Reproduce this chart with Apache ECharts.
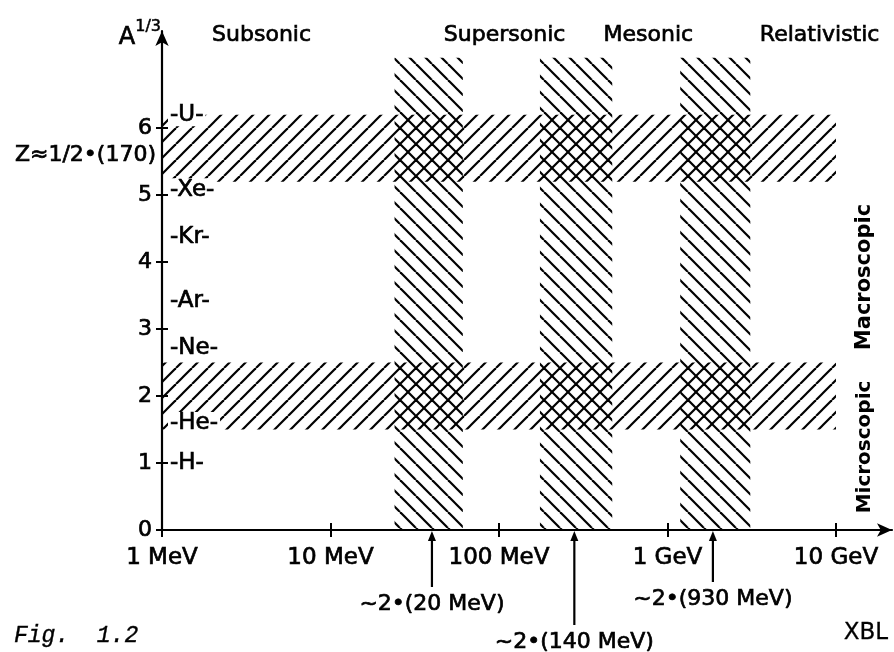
<!DOCTYPE html>
<html><head><meta charset="utf-8">
<script src="https://cdn.jsdelivr.net/npm/echarts@6/dist/echarts.min.js"></script>
<style>html,body{margin:0;padding:0;background:#fff}#c{width:894px;height:652px}</style>
</head><body><div id="c"></div>
<script>
// ---- data ----
const xTicks = [1, 10, 100, 1000, 10000];               // MeV
const xTickLabels = ['1 MeV', '10 MeV', '100 MeV', '1 GeV', '10 GeV'];
const yTicks = [0, 1, 2, 3, 4, 5, 6];
// horizontal bands: [xFrom MeV, xTo MeV, yLow, yHigh]
const hBands = [[1, 10000, 5.2, 6.2], [1, 10000, 1.5, 2.5]];
// vertical bands: [xFrom MeV, xTo MeV, yLow, yHigh]
const vBands = [[24, 61, 0, 7.05], [175, 470, 0, 7.05], [1190, 3100, 0, 7.05]];
const elements = ['-U-', '-Xe-', '-Kr-', '-Ar-', '-Ne-', '-He-', '-H-'];
const elementY = [6.2, 5.08, 4.38, 3.42, 2.71, 1.59, 1.0];
const regimes = ['Subsonic', 'Supersonic', 'Mesonic', 'Relativistic'];
const regimeX = [3.9, 108, 770, 8000];
const thresholds = [40, 280, 1860];
const thresholdLabels = ['~2•(20 MeV)', '~2•(140 MeV)', '~2•(930 MeV)'];

const FONT = 'DejaVu Sans';
const BW = 0.7; // text outline to mimic the heavy lettering

function hatch(dir) {
  const s = 16, c = document.createElement('canvas');
  c.width = s; c.height = s;
  const g = c.getContext('2d');
  g.strokeStyle = '#000'; g.lineWidth = 2.2; g.lineCap = 'butt';
  for (const o of [-s, 0, s]) {
    g.beginPath();
    if (dir === '/') { g.moveTo(o, s); g.lineTo(o + s, 0); }
    else { g.moveTo(o, 0); g.lineTo(o + s, s); }
    g.stroke();
  }
  return { image: c, repeat: 'repeat' };
}
const patSlash = hatch('/');
const patBack = hatch('\\');

function bandRenderer(pattern) {
  return function (params, api) {
    const p0 = api.coord([api.value(0), api.value(3)]);
    const p1 = api.coord([api.value(1), api.value(2)]);
    return {
      type: 'rect',
      shape: { x: p0[0], y: p0[1], width: p1[0] - p0[0], height: p1[1] - p0[1] },
      style: { fill: pattern, stroke: null }
    };
  };
}

const chart = echarts.init(document.getElementById('c'), null, { renderer: 'canvas' });
const XMAX = 21500, YMAX = 7.45;
const labelMap = {};
xTicks.forEach((v, i) => labelMap[v] = xTickLabels[i]);

const axisLineStyle = { color: '#000', width: 2.2 };
const option = {
  animation: false,
  backgroundColor: '#fff',
  grid: { left: 162, right: 2, top: 31, bottom: 122, containLabel: false },
  xAxis: [{
    type: 'log', logBase: 10, min: 1, max: XMAX, position: 'bottom',
    axisLine: { show: true, symbol: ['none', 'arrow'], symbolSize: [10, 15], lineStyle: axisLineStyle },
    axisTick: { show: true, customValues: xTicks, length: 7, lineStyle: { color: '#000', width: 2 } },
    axisLabel: { show: true, customValues: xTicks, formatter: v => labelMap[v] || '', color: '#000',
      fontFamily: FONT, fontSize: 23, margin: 17, textBorderColor: '#000', textBorderWidth: BW },
    splitLine: { show: false }, minorTick: { show: false }
  }, {
    type: 'log', logBase: 10, min: 1, max: XMAX, position: 'bottom',
    axisLine: { show: false },
    axisTick: { show: true, inside: true, customValues: xTicks, length: 7, lineStyle: { color: '#000', width: 2 } },
    axisLabel: { show: false }, splitLine: { show: false }
  }],
  yAxis: [{
    type: 'value', min: 0, max: YMAX, position: 'left',
    axisLine: { show: true, symbol: ['none', 'arrow'], symbolSize: [10, 15], lineStyle: axisLineStyle },
    axisTick: { show: true, customValues: yTicks, length: 6, lineStyle: { color: '#000', width: 2 } },
    axisLabel: { show: true, customValues: yTicks, color: '#000', fontFamily: FONT, fontSize: 22, margin: 10,
      textBorderColor: '#000', textBorderWidth: BW },
    splitLine: { show: false }
  }, {
    type: 'value', min: 0, max: YMAX, position: 'left',
    axisLine: { show: false },
    axisTick: { show: true, inside: true, customValues: yTicks, length: 6, lineStyle: { color: '#000', width: 2 } },
    axisLabel: { show: false }, splitLine: { show: false }
  }],
  series: [{
    type: 'custom', name: 'size bands', xAxisIndex: 0, yAxisIndex: 0,
    renderItem: bandRenderer(patSlash), data: hBands,
    encode: { x: [0, 1], y: [2, 3] }, clip: false, silent: true
  }, {
    type: 'custom', name: 'energy bands', xAxisIndex: 0, yAxisIndex: 0,
    renderItem: bandRenderer(patBack), data: vBands,
    encode: { x: [0, 1], y: [2, 3] }, clip: false, silent: true
  }]
};
chart.setOption(option);

const px = v => chart.convertToPixel({ xAxisIndex: 0 }, v);
const py = v => chart.convertToPixel({ yAxisIndex: 0 }, v);
const x0 = px(1), y0 = py(0);

const g = [];
const txt = (text, x, y, opts) => g.push(Object.assign({
  type: 'text', x, y, z: 100,
  style: Object.assign({ text, fill: '#000', stroke: '#000', lineWidth: BW, font: '20px ' + FONT, align: 'left', verticalAlign: 'middle' }, (opts && opts.style) || {})
}, (opts && opts.el) || {}));

// y-axis title A^1/3
g.push({ type: 'text', x: 161, y: 30, z: 100, style: {
  text: '{a|A}{s|1/3}', align: 'right', verticalAlign: 'middle',
  rich: { a: { font: '24px ' + FONT, fill: '#000', stroke: '#000', lineWidth: BW, padding: [16, 0, 0, 0] },
          s: { font: '16px ' + FONT, fill: '#000', stroke: '#000', lineWidth: 0.5, padding: [0, 0, 6, 0] } }
}});

// regime labels
regimes.forEach((r, i) => txt(r, px(regimeX[i]), 35, { style: { align: 'center', font: '22px ' + FONT } }));

// element labels (white-backed, the hatching stops around them)
elements.forEach((e, i) => txt(e, x0 + 6, py(elementY[i]), { style: { font: '23px ' + FONT, backgroundColor: '#fff', padding: [0, 2, 0, 2] } }));
txt('Z≈1/2•(170)', x0 - 6, py(5.6), { style: { align: 'right', font: '22px ' + FONT } });

// right-hand rotated labels
txt('Macroscopic', 865, 277, { style: { align: 'center', font: 'bold 21px ' + FONT, lineWidth: 0 }, el: { rotation: Math.PI / 2 } });
txt('Microscopic', 865, 447, { style: { align: 'center', font: 'bold 20px ' + FONT, lineWidth: 0 }, el: { rotation: Math.PI / 2 } });

// threshold arrows
const arrowLen = [57, 95, 52];
thresholds.forEach((t, i) => {
  const x = px(t);
  g.push({ type: 'line', z: 100, shape: { x1: x, y1: y0 + 6, x2: x, y2: y0 + arrowLen[i] }, style: { stroke: '#000', lineWidth: 2.2 } });
  g.push({ type: 'polygon', z: 100, shape: { points: [[x, y0 + 1], [x - 4, y0 + 11], [x + 4, y0 + 11]] }, style: { fill: '#000' } });
  txt(thresholdLabels[i], x, y0 + arrowLen[i] + 17, { style: { align: 'center', font: '22px ' + FONT } });
});

// figure caption & code
txt('Fig.  1.2', 14, 636, { style: { font: 'italic 23px "Liberation Mono"', lineWidth: 0.4 } });
txt('XBL', 888, 633, { style: { align: 'right', font: '23px ' + FONT, lineWidth: 0.3 } });

chart.setOption({ graphic: { elements: g } });
</script></body></html>
